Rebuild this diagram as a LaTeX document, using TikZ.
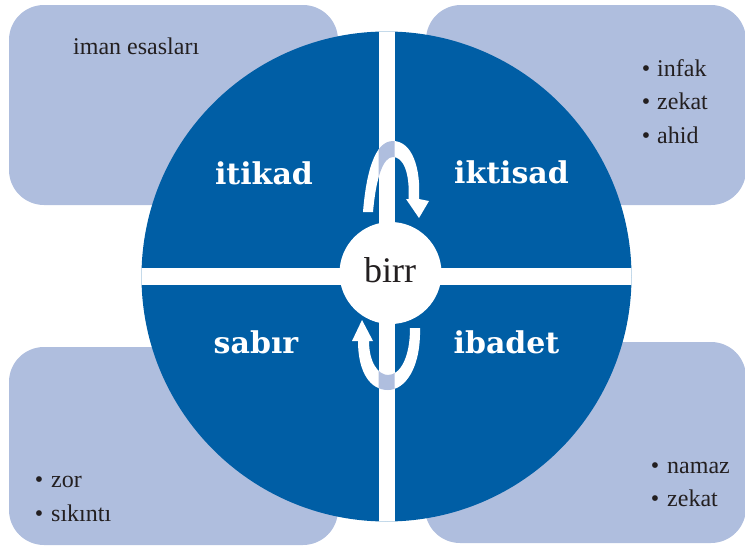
\documentclass[tikz,border=0pt]{standalone}
\usepackage{fontspec}
\setmainfont{Liberation Serif}
\newfontfamily\labelfont{DejaVu Serif}
\newfontfamily\itemfont{Liberation Serif}
\definecolor{darkblue}{RGB}{0,94,165}
\definecolor{lightblue}{RGB}{175,190,222}
\definecolor{textdark}{RGB}{35,31,32}
\newcommand\ArrowTopPath{(363,212) .. controls (366,175) and (374,141) .. (393,141) .. controls (412,141) and (421,168) .. (419,199) -- (429,201) -- (419,218) -- (406,199) -- (408.5,199) .. controls (410,172) and (403,157) .. (393,157) .. controls (383,157) and (376,178) .. (373,212) -- cycle}
\newcommand\ArrowBotPath{(420,328) .. controls (421,368) and (405,390) .. (388,390) .. controls (370,390) and (358,372) .. (358,341) -- (352,341) -- (362,320) -- (373,341) -- (369,341) .. controls (369,362) and (378,375) .. (388,375) .. controls (400,375) and (410,358) .. (410,328) -- cycle}
\begin{document}
\begin{tikzpicture}[x=1pt,y=-1pt,
  box/.style={fill=lightblue, rounded corners=35pt},
  quad/.style={font=\labelfont\bfseries\fontsize{30}{32}\selectfont, text=white, anchor=base, inner sep=0pt},
  item/.style={font=\itemfont\fontsize{24}{28}\selectfont, text=textdark, anchor=base west, inner sep=0pt},
  bul/.style={font=\itemfont\fontsize{24}{28}\selectfont, text=textdark, anchor=base, inner sep=0pt},
]
\useasboundingbox (0,0) rectangle (745,546);
% boxes
\fill[box] (9,5) rectangle (338,205);
\fill[box] (426,5) rectangle (746,205);
\fill[box] (9,347) rectangle (338,545);
\fill[box] (425,342) rectangle (746,543);
% big circle
\fill[darkblue] (386.5,276.5) circle (245pt);
\begin{scope}
  \clip (386.5,276.5) circle (245pt);
  \fill[white] (0,268) rectangle (745,284.5);
  \fill[white] (378.5,0) rectangle (394.5,546);
\end{scope}
% arrows
\fill[white] \ArrowTopPath;
\fill[white] \ArrowBotPath;
\begin{scope}
  \clip (378.5,0) rectangle (394.5,546);
  \fill[lightblue] \ArrowTopPath;
  \fill[lightblue] \ArrowBotPath;
\end{scope}
% center
\node[circle, fill=white, minimum size=102pt, inner sep=0pt] (center) at (390.5,273) {};
\node[anchor=base, inner sep=0pt, text=textdark, font=\itemfont\fontsize{36}{40}\selectfont] (birr) at (390,282) {birr};
% quadrant labels
\node[quad] (itikad) at (264,184) {itikad};
\node[quad] (iktisad) at (511.5,183) {iktisad};
\node[quad] (sabir) at (256,353) {sabır};
\node[quad] (ibadet) at (506.5,353) {ibadet};
% box texts
\node[item] (iman) at (73,54) {iman esasları};
\foreach \t/\y [count=\i] in {infak/76, zekat/109, ahid/143} {
  \node[bul] (tb\i) at (646,\y) {•};
  \node[item] (tt\i) at (657,\y) {\t};
}
\foreach \t/\y [count=\i] in {zor/487, sıkıntı/521} {
  \node[bul] (lb\i) at (39,\y) {•};
  \node[item] (lt\i) at (51,\y) {\t};
}
\foreach \t/\y [count=\i] in {namaz/473, zekat/506} {
  \node[bul] (rb\i) at (655,\y) {•};
  \node[item] (rt\i) at (667,\y) {\t};
}
\end{tikzpicture}
\end{document}
